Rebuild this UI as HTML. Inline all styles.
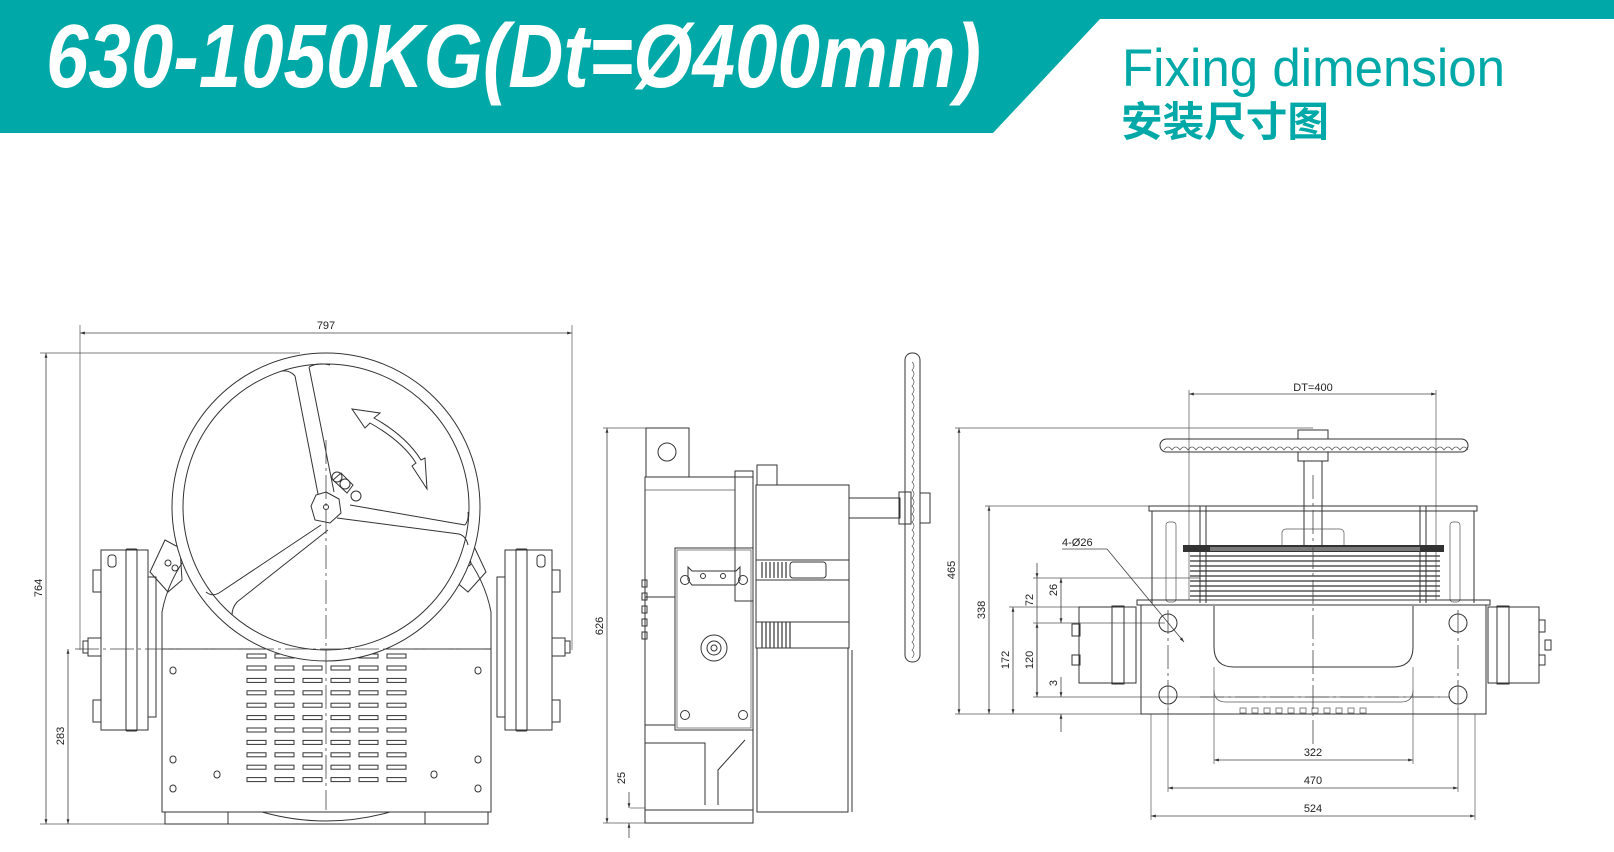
<!DOCTYPE html>
<html><head><meta charset="utf-8"><style>
html,body{margin:0;padding:0;background:#fff;}
svg{display:block;}
.l{fill:none;stroke:#333;stroke-width:1;}
.t{fill:none;stroke:#555;stroke-width:0.7;}
.d{fill:none;stroke:#444;stroke-width:0.8;}
.c{fill:none;stroke:#444;stroke-width:0.8;stroke-dasharray:24 4 3 4;}
.dt{font-family:"Liberation Sans",sans-serif;font-size:11px;fill:#222;}
</style></head><body>
<svg width="1614" height="852" viewBox="0 0 1614 852" xmlns="http://www.w3.org/2000/svg">
<defs>
<marker id="a" viewBox="0 0 10 10" refX="10" refY="5" markerWidth="8" markerHeight="6" orient="auto-start-reverse"><path d="M0,2 L10,5 L0,8 z" fill="#333"/></marker>
</defs>
<!-- header -->
<polygon points="0,0 1614,0 1614,19 1100,19 993,133 0,133" fill="#00a9a7"/>
<text x="46" y="87" textLength="935" lengthAdjust="spacingAndGlyphs" font-family="Liberation Sans, sans-serif" font-weight="bold" font-style="italic" font-size="90" fill="#fff">630-1050KG(Dt=Ø400mm)</text>
<text x="1122" y="86" textLength="383" lengthAdjust="spacingAndGlyphs" font-family="Liberation Sans, sans-serif" font-size="53" fill="#00a9a7">Fixing dimension</text>
<text x="1121" y="136" textLength="208" lengthAdjust="spacingAndGlyphs" font-family="Liberation Sans, Noto Sans CJK SC, sans-serif" font-weight="bold" font-size="41" fill="#00a9a7">安装尺寸图</text>

<!-- ============ LEFT VIEW ============ -->
<g>
<line class="d" x1="80" y1="333" x2="572" y2="333" marker-start="url(#a)" marker-end="url(#a)"/>
<text class="dt" x="326" y="329" text-anchor="middle">797</text>
<line class="t" x1="80" y1="325" x2="80" y2="650"/>
<line class="t" x1="572" y1="325" x2="572" y2="650"/>
<line class="d" x1="46" y1="353" x2="46" y2="824" marker-start="url(#a)" marker-end="url(#a)"/>
<line class="t" x1="40" y1="353" x2="300" y2="353"/>
<line class="t" x1="40" y1="824" x2="165" y2="824"/>
<text class="dt" transform="translate(42,588) rotate(-90)" text-anchor="middle">764</text>
<line class="d" x1="68" y1="649" x2="68" y2="824" marker-start="url(#a)" marker-end="url(#a)"/>
<text class="dt" transform="translate(64,736) rotate(-90)" text-anchor="middle">283</text>
<path class="l" d="M162,812 V612 Q168,580 190,552 M491,812 V612 Q485,580 463,552"/>
<rect class="l" x="162" y="649" width="329" height="163"/>
<path class="l" d="M165,812 V824 H488 V812 M228,812 V824 M425,812 V824 M262,812 Q326,830 390,812"/>
<path class="l" d="M150,572 L165,540 L180,548 L182,580 L168,592 Z M486,572 L471,540 L456,548 L454,580 L468,592 Z"/>
<circle class="l" cx="168" cy="563" r="3"/><circle class="l" cx="175" cy="568" r="3"/>
<circle class="l" cx="468" cy="563" r="3"/><circle class="l" cx="461" cy="568" r="3"/>
<g id="bk">
<rect class="l" x="101" y="550" width="47" height="180"/>
<rect class="l" x="126" y="549" width="11" height="182" rx="1"/>
<rect class="l" x="148" y="577" width="8" height="140"/>
<rect class="l" x="93" y="570" width="8" height="22"/><rect class="l" x="93" y="700" width="8" height="22"/>
<rect class="l" x="88" y="638" width="13" height="18"/>
<rect class="l" x="83" y="641" width="5" height="12"/>
<rect class="l" x="108" y="555" width="8" height="12" rx="3"/>
</g>
<use href="#bk" transform="translate(653,0) scale(-1,1)"/>
<g class="l">
<rect x="247" y="654" width="19" height="4"/><rect x="275" y="654" width="19" height="4"/><rect x="303" y="654" width="19" height="4"/><rect x="331" y="654" width="19" height="4"/><rect x="359" y="654" width="19" height="4"/><rect x="387" y="654" width="19" height="4"/>
</g>
<g id="vr"><g class="l">
<rect x="247" y="666" width="19" height="4"/><rect x="275" y="666" width="19" height="4"/><rect x="303" y="666" width="19" height="4"/><rect x="331" y="666" width="19" height="4"/><rect x="359" y="666" width="19" height="4"/><rect x="387" y="666" width="19" height="4"/>
</g></g>
<use href="#vr" transform="translate(0,12.4)"/><use href="#vr" transform="translate(0,24.8)"/><use href="#vr" transform="translate(0,37.2)"/><use href="#vr" transform="translate(0,49.6)"/><use href="#vr" transform="translate(0,62)"/><use href="#vr" transform="translate(0,74.4)"/><use href="#vr" transform="translate(0,86.8)"/><use href="#vr" transform="translate(0,99.2)"/><use href="#vr" transform="translate(0,111.6)"/>
<g class="l">
<rect x="170" y="667" width="6" height="7" rx="3"/><rect x="475" y="667" width="6" height="7" rx="3"/>
<rect x="170" y="756" width="6" height="7" rx="3"/><rect x="475" y="756" width="6" height="7" rx="3"/>
<rect x="170" y="785" width="6" height="7" rx="3"/><rect x="475" y="785" width="6" height="7" rx="3"/>
<rect x="214" y="771" width="6" height="7" rx="3"/><rect x="431" y="771" width="6" height="7" rx="3"/>
</g>
<circle cx="326" cy="507" r="154" fill="#fff" stroke="#333" stroke-width="1"/>
<circle class="l" cx="326" cy="507" r="143"/>
<path class="l" d="M295,376 L318,494 M309,367 L334,492 M295,376 Q290,370 282,371 M309,367 Q318,362 330,365"/>
<path class="l" d="M337,518 L459,534 M350,505 L465,525 M459,534 Q466,536 468,545 M465,525 Q469,520 468,512"/>
<path class="l" d="M321,525 L219,593 M328,530 L237,602 M219,593 Q212,597 206,592 M237,602 Q232,608 232,615"/>
<polygon class="l" points="326,492 339,499 341,513 330,523 315,520 311,506 316,495"/>
<circle class="l" cx="326" cy="507" r="2.5"/>
<path class="l" d="M333,480 l8,-7 l12,12 l-6,8 z"/><circle class="l" cx="337" cy="477" r="5"/><circle class="l" cx="345" cy="484" r="5"/><circle class="l" cx="356" cy="496" r="5"/>
<path class="l" d="M352,409 L380,413 L374,418 Q406,436 421,460 L425,458 L427,489 L412,466 L416,463 Q402,441 370,423 L365,428 Z"/>
<line class="c" x1="326" y1="440" x2="326" y2="810"/>
<line class="c" x1="75" y1="649" x2="485" y2="649"/>
</g>

<!-- ============ MIDDLE VIEW ============ -->
<g>
<line class="d" x1="607" y1="428" x2="607" y2="823" marker-start="url(#a)" marker-end="url(#a)"/>
<line class="t" x1="603" y1="428" x2="650" y2="428"/>
<line class="t" x1="603" y1="823" x2="650" y2="823"/>
<text class="dt" transform="translate(603,626) rotate(-90)" text-anchor="middle">626</text>
<line class="t" x1="630" y1="808" x2="645" y2="808"/>
<line class="d" x1="629" y1="792" x2="629" y2="808" marker-end="url(#a)"/>
<line class="d" x1="629" y1="838" x2="629" y2="823" marker-end="url(#a)"/>
<text class="dt" transform="translate(625,778) rotate(-90)" text-anchor="middle">25</text>
<rect class="l" x="646" y="428" width="43" height="49"/>
<circle class="l" cx="667" cy="452" r="9"/>
<rect class="l" x="645" y="477" width="108" height="346"/>
<line class="t" x1="645" y1="490" x2="735" y2="490"/>
<rect class="l" x="735" y="471" width="18" height="130"/>
<rect class="l" x="757" y="465" width="20" height="20"/>
<path class="l" d="M675,597 H645 M675,725 H645"/>
<g class="l"><rect x="642" y="580" width="5" height="7"/><rect x="642" y="593" width="5" height="7"/><rect x="642" y="606" width="5" height="7"/><rect x="642" y="619" width="5" height="7"/><rect x="642" y="632" width="5" height="7"/></g>
<path class="l" d="M645,743 H705 V805 M718,805 V770 L745,740 M645,810 H753"/>
<rect class="l" x="675" y="548" width="78" height="182"/>
<rect class="t" x="677" y="550" width="74" height="178"/>
<path class="l" d="M688,567 L692,571 H736 L740,567 V580 L736,585 H692 L688,580 Z"/>
<circle class="l" cx="703" cy="576" r="2.5"/><circle class="l" cx="723" cy="576" r="2.5"/>
<circle class="l" cx="685" cy="580" r="4.5"/><circle class="l" cx="743" cy="580" r="4.5"/>
<circle class="l" cx="685" cy="715" r="4.5"/><circle class="l" cx="743" cy="715" r="4.5"/>
<circle class="l" cx="714" cy="648" r="13"/><circle class="l" cx="714" cy="648" r="7"/><circle class="l" cx="714" cy="648" r="3"/>
<rect class="l" x="756" y="485" width="93" height="163"/>
<rect class="l" x="757" y="648" width="91" height="164"/>
<g stroke="#444" stroke-width="1.3">
<line x1="762" y1="562" x2="762" y2="578"/><line x1="766" y1="562" x2="766" y2="578"/><line x1="770" y1="562" x2="770" y2="578"/><line x1="774" y1="562" x2="774" y2="578"/><line x1="778" y1="562" x2="778" y2="578"/><line x1="782" y1="562" x2="782" y2="578"/><line x1="786" y1="562" x2="786" y2="578"/>
<line x1="762" y1="622" x2="762" y2="648"/><line x1="766" y1="622" x2="766" y2="648"/><line x1="770" y1="622" x2="770" y2="648"/><line x1="774" y1="622" x2="774" y2="648"/><line x1="778" y1="622" x2="778" y2="648"/><line x1="782" y1="622" x2="782" y2="648"/><line x1="786" y1="622" x2="786" y2="648"/><line x1="790" y1="622" x2="790" y2="648"/>
</g>
<rect class="l" x="790" y="562" width="36" height="16" rx="3"/>
<line class="l" x1="756" y1="560" x2="849" y2="560"/><line class="l" x1="756" y1="580" x2="849" y2="580"/>
<line class="l" x1="756" y1="622" x2="849" y2="622"/>
<line class="l" x1="848" y1="648" x2="848" y2="812"/><line class="l" x1="852" y1="650" x2="852" y2="812"/>
<rect class="l" x="849" y="498" width="51" height="20"/>
<rect class="l" x="899" y="492" width="12" height="32"/>
<rect class="l" x="920" y="493" width="10" height="30"/>
<rect class="l" x="905" y="353" width="15" height="309" rx="7"/>
<path class="t" d="M912,362 q4,4 0,8 q4,4 0,8 q4,4 0,8 q4,4 0,8 q4,4 0,8 q4,4 0,8 q4,4 0,8 q4,4 0,8 q4,4 0,8 q4,4 0,8 q4,4 0,8 q4,4 0,8 q4,4 0,8 q4,4 0,8 q4,4 0,8 q4,4 0,8 q4,4 0,8 q4,4 0,8 q4,4 0,8 q4,4 0,8 q4,4 0,8 q4,4 0,8 q4,4 0,8 q4,4 0,8 q4,4 0,8 q4,4 0,8 q4,4 0,8 q4,4 0,8 q4,4 0,8 q4,4 0,8 q4,4 0,8 q4,4 0,8 q4,4 0,8 q4,4 0,8 q4,4 0,8 q4,4 0,8 q4,4 0,8"/>
</g>

<!-- ============ RIGHT VIEW ============ -->
<g>
<line class="d" x1="1189" y1="394" x2="1436" y2="394" marker-start="url(#a)" marker-end="url(#a)"/>
<text class="dt" x="1313" y="391" text-anchor="middle">DT=400</text>
<line class="t" x1="1189" y1="390" x2="1189" y2="600"/>
<line class="t" x1="1436" y1="390" x2="1436" y2="600"/>
<line class="d" x1="959" y1="428" x2="959" y2="714" marker-start="url(#a)" marker-end="url(#a)"/>
<line class="t" x1="955" y1="428" x2="1313" y2="428"/>
<line class="t" x1="955" y1="714" x2="1141" y2="714"/>
<text class="dt" transform="translate(955,570) rotate(-90)" text-anchor="middle">465</text>
<line class="d" x1="989" y1="506" x2="989" y2="714" marker-start="url(#a)" marker-end="url(#a)"/>
<line class="t" x1="985" y1="506" x2="1152" y2="506"/>
<text class="dt" transform="translate(985,610) rotate(-90)" text-anchor="middle">338</text>
<line class="d" x1="1013" y1="607" x2="1013" y2="714" marker-start="url(#a)" marker-end="url(#a)"/>
<line class="t" x1="1009" y1="607" x2="1090" y2="607"/>
<text class="dt" transform="translate(1009,660) rotate(-90)" text-anchor="middle">172</text>
<line class="d" x1="1037" y1="563" x2="1037" y2="578" marker-end="url(#a)"/>
<line class="d" x1="1037" y1="578" x2="1037" y2="697"/>
<line class="d" x1="1037" y1="623" x2="1037" y2="697" marker-start="url(#a)" marker-end="url(#a)"/>
<text class="dt" transform="translate(1033,600) rotate(-90)" text-anchor="middle">72</text>
<text class="dt" transform="translate(1033,660) rotate(-90)" text-anchor="middle">120</text>
<line class="t" x1="1033" y1="578" x2="1200" y2="578"/>
<line class="t" x1="1033" y1="623" x2="1165" y2="623"/>
<line class="t" x1="1033" y1="697" x2="1450" y2="697"/>
<line class="d" x1="1061" y1="578" x2="1061" y2="623" marker-start="url(#a)" marker-end="url(#a)"/>
<text class="dt" transform="translate(1057,590) rotate(-90)" text-anchor="middle">26</text>
<line class="d" x1="1061" y1="677" x2="1061" y2="697" marker-end="url(#a)"/>
<line class="d" x1="1061" y1="732" x2="1061" y2="714" marker-end="url(#a)"/>
<text class="dt" transform="translate(1057,683) rotate(-90)" text-anchor="middle">3</text>
<text class="dt" x="1062" y="546">4-Ø26</text>
<path class="d" d="M1062,549 H1107 L1184,642" marker-end="url(#a)"/>
<line class="d" x1="1214" y1="760" x2="1413" y2="760" marker-start="url(#a)" marker-end="url(#a)"/>
<text class="dt" x="1313" y="756" text-anchor="middle">322</text>
<line class="d" x1="1168" y1="788" x2="1458" y2="788" marker-start="url(#a)" marker-end="url(#a)"/>
<text class="dt" x="1313" y="784" text-anchor="middle">470</text>
<line class="d" x1="1151" y1="816" x2="1475" y2="816" marker-start="url(#a)" marker-end="url(#a)"/>
<text class="dt" x="1313" y="812" text-anchor="middle">524</text>
<line class="t" x1="1214" y1="667" x2="1214" y2="764"/><line class="t" x1="1413" y1="667" x2="1413" y2="764"/>
<line class="t" x1="1168" y1="705" x2="1168" y2="792"/><line class="t" x1="1458" y1="705" x2="1458" y2="792"/>
<line class="t" x1="1151" y1="714" x2="1151" y2="820"/><line class="t" x1="1475" y1="714" x2="1475" y2="820"/>
<rect class="l" x="1160" y="439" width="308" height="13" rx="6.5"/>
<path class="t" d="M1164,450 q4,-6 8,0 q4,-6 8,0 q4,-6 8,0 q4,-6 8,0 q4,-6 8,0 q4,-6 8,0 q4,-6 8,0 q4,-6 8,0 q4,-6 8,0 q4,-6 8,0 q4,-6 8,0 q4,-6 8,0 q4,-6 8,0 q4,-6 8,0 q4,-6 8,0 q4,-6 8,0 q4,-6 8,0 q4,-6 8,0 q4,-6 8,0 q4,-6 8,0 q4,-6 8,0 q4,-6 8,0 q4,-6 8,0 q4,-6 8,0 q4,-6 8,0 q4,-6 8,0 q4,-6 8,0 q4,-6 8,0 q4,-6 8,0 q4,-6 8,0 q4,-6 8,0 q4,-6 8,0 q4,-6 8,0 q4,-6 8,0 q4,-6 8,0 q4,-6 8,0 q4,-6 8,0 q4,-6 8,0"/>
<rect class="l" x="1298" y="430" width="30" height="9"/>
<rect class="l" x="1298" y="452" width="30" height="9"/>
<rect class="l" x="1304" y="461" width="18" height="86"/>
<rect class="l" x="1149" y="506" width="328" height="5"/>
<line class="l" x1="1152" y1="511" x2="1152" y2="603"/><line class="l" x1="1474" y1="511" x2="1474" y2="603"/>
<line class="l" x1="1200" y1="506" x2="1200" y2="603"/><line class="l" x1="1206" y1="506" x2="1206" y2="603"/>
<line class="l" x1="1420" y1="506" x2="1420" y2="603"/><line class="l" x1="1426" y1="506" x2="1426" y2="603"/>
<rect class="t" x="1166" y="522" width="10" height="80" rx="3"/><rect class="t" x="1450" y="522" width="10" height="80" rx="3"/>
<rect class="t" x="1282" y="529" width="62" height="20" rx="4"/>
<rect fill="#333" x="1183" y="545" width="261" height="7"/>
<rect fill="#fff" x="1210" y="547" width="210" height="4" opacity="0.35"/>
<g stroke="#333" stroke-width="1.2">
<line x1="1190" y1="556" x2="1440" y2="556"/><line x1="1190" y1="561" x2="1440" y2="561"/><line x1="1190" y1="566" x2="1440" y2="566"/><line x1="1190" y1="571" x2="1440" y2="571"/><line x1="1190" y1="576" x2="1440" y2="576"/><line x1="1190" y1="581" x2="1440" y2="581"/><line x1="1190" y1="586" x2="1440" y2="586"/><line x1="1190" y1="591" x2="1440" y2="591"/><line x1="1190" y1="596" x2="1440" y2="596"/>
</g>
<rect class="l" x="1137" y="600" width="353" height="5"/>
<rect class="l" x="1141" y="605" width="345" height="109"/>
<path class="l" d="M1214,606 V647 Q1214,667 1234,667 H1393 Q1413,667 1413,647 V606"/>
<path class="t" d="M1214,690 Q1214,702 1226,702 H1401 Q1413,702 1413,690"/>
<circle class="l" cx="1168" cy="623" r="9"/><circle class="l" cx="1458" cy="623" r="9"/>
<circle class="l" cx="1168" cy="695" r="9"/><circle class="l" cx="1458" cy="695" r="9"/>
<g class="t"><rect x="1240" y="708" width="6" height="5"/><rect x="1252" y="708" width="6" height="5"/><rect x="1264" y="708" width="6" height="5"/><rect x="1276" y="708" width="6" height="5"/><rect x="1288" y="708" width="6" height="5"/><rect x="1300" y="708" width="6" height="5"/><rect x="1312" y="708" width="6" height="5"/><rect x="1324" y="708" width="6" height="5"/><rect x="1336" y="708" width="6" height="5"/><rect x="1348" y="708" width="6" height="5"/><rect x="1360" y="708" width="6" height="5"/></g>
<rect class="l" x="1079" y="607" width="57" height="76"/><rect class="l" x="1112" y="606" width="12" height="78"/>
<rect class="l" x="1072" y="624" width="8" height="12"/><rect class="l" x="1072" y="655" width="8" height="10"/>
<rect class="l" x="1488" y="607" width="51" height="76"/><rect class="l" x="1497" y="606" width="12" height="78"/>
<rect class="l" x="1539" y="620" width="6" height="12"/><rect class="l" x="1539" y="655" width="6" height="10"/>
<rect class="l" x="1545" y="640" width="6" height="10"/>
<line class="c" x1="1313" y1="475" x2="1313" y2="750"/>
<line class="c" x1="1168" y1="610" x2="1168" y2="710"/><line class="c" x1="1458" y1="610" x2="1458" y2="710"/>
<line class="c" x1="1200" y1="697" x2="1440" y2="697"/>
</g>
</svg>
</body></html>
